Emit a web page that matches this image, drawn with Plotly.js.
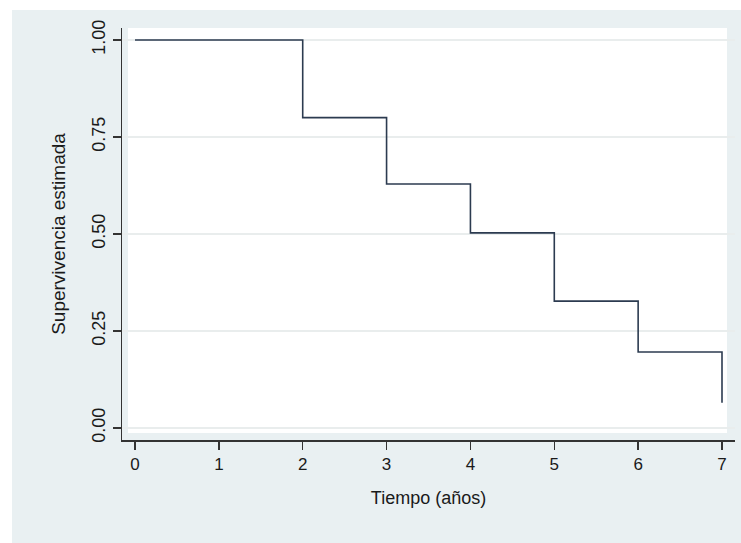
<!DOCTYPE html>
<html>
<head>
<meta charset="utf-8">
<script src="https://cdn.plot.ly/plotly-3.0.1.min.js"></script>
<style>
  html, body { margin: 0; padding: 0; background: #ffffff; }
  #bg { position: absolute; left: 12px; top: 10px; width: 729px; height: 533px; background: #e9f0f2; }
  #chart { position: absolute; left: 0; top: 0; width: 741px; height: 543px; }
</style>
</head>
<body>
<div id="bg"></div>
<div id="chart"></div>
<script>
// Kaplan-Meier step data
const times = [0, 2, 3, 4, 5, 6, 7];
const survival = [1.0, 0.80, 0.629, 0.503, 0.327, 0.196, 0.065];

const xTickVals = [0, 1, 2, 3, 4, 5, 6, 7];
const xTickText = ['0', '1', '2', '3', '4', '5', '6', '7'];
const yTickVals = [0, 0.25, 0.5, 0.75, 1.0];
const yTickText = ['0.00', '0.25', '0.50', '0.75', '1.00'];

const xTitle = 'Tiempo (años)';
const yTitle = 'Supervivencia estimada';

const fontFam = '"Liberation Sans", Arial, "DejaVu Sans", sans-serif';

const trace = {
  x: times,
  y: survival,
  type: 'scatter',
  mode: 'lines',
  line: { shape: 'hv', color: '#2c3b50', width: 1.6 },
  hoverinfo: 'skip',
  showlegend: false
};

const layout = {
  width: 741,
  height: 543,
  margin: { l: 122, r: 6, t: 28, b: 103 },
  paper_bgcolor: 'rgba(0,0,0,0)',
  plot_bgcolor: '#e9f0f2',
  font: { family: fontFam, color: '#1a1a1a' },
  showlegend: false,
  xaxis: {
    range: [-0.155, 7.155],
    tickmode: 'array',
    tickvals: xTickVals,
    ticktext: xTickText,
    ticks: 'outside',
    ticklen: 8,
    tickwidth: 1.3,
    tickcolor: '#333333',
    tickfont: { size: 17, family: fontFam, color: '#1a1a1a' },
    showgrid: false,
    zeroline: false,
    showline: true,
    linecolor: '#333333',
    linewidth: 1.5,
    automargin: true,
    title: { text: xTitle, font: { size: 18, family: fontFam, color: '#1a1a1a' }, standoff: 18 }
  },
  yaxis: {
    range: [-0.031, 1.031],
    tickmode: 'array',
    tickvals: yTickVals,
    ticktext: yTickText,
    tickangle: -90,
    ticks: 'outside',
    ticklen: 8,
    tickwidth: 1.3,
    tickcolor: '#333333',
    tickfont: { size: 18, family: fontFam, color: '#1a1a1a' },
    showgrid: true,
    gridcolor: '#e9eded',
    gridwidth: 2,
    zeroline: false,
    showline: true,
    linecolor: '#333333',
    linewidth: 1.5,
    automargin: true,
    title: { text: yTitle, font: { size: 19, family: fontFam, color: '#1a1a1a' }, standoff: 18 }
  },
  shapes: [{
    type: 'rect',
    xref: 'x domain', yref: 'y domain',
    x0: 0.0098, x1: 0.987, y0: 0.017, y1: 1,
    fillcolor: '#ffffff',
    line: { width: 0 },
    layer: 'below'
  }]
};

Plotly.newPlot('chart', [trace], layout, { displayModeBar: false, staticPlot: true });
</script>
</body>
</html>
